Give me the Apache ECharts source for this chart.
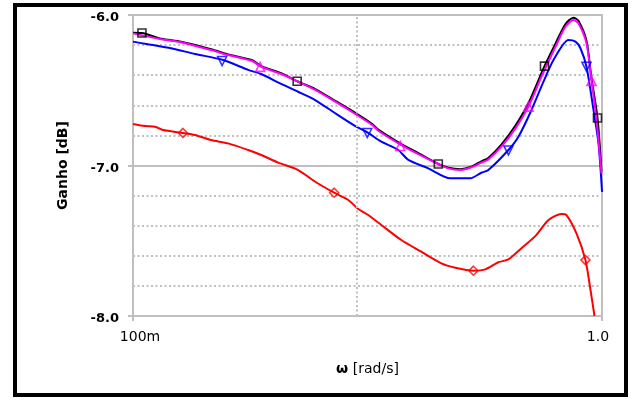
<!DOCTYPE html>
<html><head><meta charset="utf-8">
<script src="https://cdn.jsdelivr.net/npm/echarts@6/dist/echarts.min.js"></script>
<style>html,body{margin:0;padding:0;background:#fff}#c{width:636px;height:398px}</style>
</head><body><div id="c"></div>
<script>
// Frequency axis tick labels
const xTickLabels = ['100m', '1.0'];
const yTickLabels = ['-8.0', '-7.0', '-6.0'];

// [w (rad/s), gain (dB)]
const blackCurve = [
  [0.1000,-6.118],[0.1045,-6.120],[0.1148,-6.158],[0.1266,-6.178],[0.1467,-6.228],[0.1595,-6.262],
  [0.1795,-6.300],[0.1876,-6.340],[0.2070,-6.386],[0.2239,-6.440],[0.2446,-6.492],[0.2699,-6.570],
  [0.2978,-6.650],[0.3236,-6.724],[0.3334,-6.762],[0.3733,-6.858],[0.4058,-6.918],[0.4477,-6.990],
  [0.4703,-7.015],[0.4989,-7.025],[0.5266,-7.008],[0.5531,-6.972],[0.5723,-6.950],[0.6101,-6.862],
  [0.6538,-6.735],[0.6970,-6.585],[0.7540,-6.340],[0.7958,-6.190],[0.8358,-6.060],[0.8693,-6.018],
  [0.8908,-6.038],[0.9267,-6.172],[0.9497,-6.420],[0.9781,-6.684],[0.9975,-7.040]
];
const magentaCurve = [
  [0.1000,-6.122],[0.1148,-6.161],[0.1266,-6.181],[0.1467,-6.233],[0.1595,-6.266],[0.1795,-6.306],
  [0.1876,-6.344],[0.2070,-6.392],[0.2250,-6.443],[0.2446,-6.498],[0.2699,-6.576],[0.2978,-6.658],
  [0.3236,-6.731],[0.3334,-6.769],[0.3733,-6.864],[0.4058,-6.924],[0.4477,-6.990],[0.4703,-7.019],
  [0.4989,-7.030],[0.5266,-7.012],[0.5531,-6.981],[0.5723,-6.960],[0.6101,-6.875],[0.6538,-6.753],
  [0.6970,-6.609],[0.7431,-6.410],[0.7958,-6.211],[0.8358,-6.078],[0.8693,-6.033],[0.8908,-6.055],
  [0.9267,-6.188],[0.9497,-6.432],[0.9734,-6.698],[0.9975,-7.052]
];
const blueCurve = [
  [0.1000,-6.177],[0.1077,-6.195],[0.1205,-6.221],[0.1356,-6.259],[0.1556,-6.299],[0.1760,-6.365],
  [0.1876,-6.392],[0.2070,-6.458],[0.2250,-6.510],[0.2446,-6.565],[0.2699,-6.653],[0.2978,-6.738],
  [0.3142,-6.775],[0.3384,-6.842],[0.3678,-6.897],[0.3864,-6.963],[0.4262,-7.019],[0.4749,-7.085],
  [0.5240,-7.085],[0.5531,-7.048],[0.5723,-7.030],[0.6316,-6.897],[0.6635,-6.809],[0.7074,-6.631],
  [0.7503,-6.443],[0.7880,-6.299],[0.8482,-6.166],[0.8779,-6.177],[0.8995,-6.221],[0.9267,-6.344],
  [0.9591,-6.631],[0.9829,-6.853],[1.0000,-7.174]
];
const redCurve = [
  [0.1000,-6.724],[0.1061,-6.738],[0.1114,-6.742],[0.1159,-6.764],[0.1266,-6.782],[0.1356,-6.797],
  [0.1467,-6.831],[0.1595,-6.853],[0.1760,-6.897],[0.1876,-6.930],[0.2040,-6.981],[0.2250,-7.030],
  [0.2446,-7.108],[0.2685,-7.181],[0.2877,-7.229],[0.3022,-7.289],[0.3173,-7.329],[0.3384,-7.395],
  [0.3733,-7.495],[0.4118,-7.573],[0.4544,-7.650],[0.4867,-7.679],[0.5318,-7.699],[0.5641,-7.690],
  [0.6011,-7.643],[0.6316,-7.624],[0.6733,-7.550],[0.7215,-7.468],[0.7689,-7.362],[0.8196,-7.322],
  [0.8399,-7.329],[0.8822,-7.451],[0.9220,-7.628],[0.9450,-7.827],[0.9638,-8.000]
];

// marker positions
const blackMarks = [[0.1045,-6.120],[0.2239,-6.440],[0.4477,-6.990],[0.7540,-6.340],[0.9781,-6.684]];
const magentaMarks = [[0.1867,-6.345],[0.3714,-6.870],[0.6970,-6.609],[0.9497,-6.438]];
const blueMarks = [[0.1549,-6.306],[0.3158,-6.784],[0.6316,-6.900],[0.9267,-6.344]];
const redMarks = [[0.1278,-6.784],[0.2685,-7.181],[0.5318,-7.699],[0.9220,-7.628]];

const vGrid = [0.3];

const FONT = 'DejaVu Sans';
const GRAY = '#bfbfbf';

function lineSeries(data, color) {
  return { type:'line', data:data, showSymbol:false, symbol:'none', smooth:0.25,
    lineStyle:{color:color, width:2}, itemStyle:{color:color}, z:3, silent:true };
}
function markSeries(data, color, symbol, rot, size) {
  return { type:'scatter', data:data, symbol:symbol, symbolSize:size, symbolRotate:rot||0,
    itemStyle:{color:'rgba(255,255,255,0)', borderColor:color, borderWidth:1.6}, z:4, silent:true };
}

const chart = echarts.init(document.getElementById('c'), null, {renderer:'canvas'});
chart.setOption({
  animation:false,
  backgroundColor:'#ffffff',
  graphic:[{ type:'rect', shape:{x:15, y:5, width:611, height:390},
    style:{fill:'none', stroke:'#000', lineWidth:4}, z:100, silent:true }],
  grid:{ left:133, top:15, width:469, height:301, show:true, borderColor:GRAY, borderWidth:2 },
  xAxis:{
    type:'log', logBase:10, min:0.1, max:1,
    name:'{w|ω} [rad/s]', nameLocation:'middle', nameGap:46,
    nameTextStyle:{ fontFamily:FONT, fontSize:14, color:'#000',
      rich:{ w:{ fontFamily:FONT, fontSize:14, fontWeight:'bold', color:'#000' } } },
    axisLine:{ lineStyle:{ color:GRAY, width:2 } },
    axisTick:{ show:true, length:5, lineStyle:{ color:GRAY, width:2 } },
    minorTick:{ show:false },
    axisLabel:{ fontFamily:FONT, fontSize:14, color:'#000', margin:14,
      rich:{
        a:{ fontFamily:FONT, fontSize:14, color:'#000', padding:[0,0,0,14] },
        b:{ fontFamily:FONT, fontSize:14, color:'#000', padding:[0,8,0,0] }
      },
      formatter:function(v){ return v < 0.5 ? '{a|' + xTickLabels[0] + '}' : '{b|' + xTickLabels[1] + '}'; } },
    splitLine:{ show:false }
  },
  yAxis:[{
    type:'value', min:-8, max:-6, interval:1,
    name:'Ganho [dB]', nameLocation:'middle', nameGap:63,
    nameTextStyle:{ fontFamily:FONT, fontSize:14, fontWeight:'bold', color:'#000' },
    axisLine:{ show:true, lineStyle:{ color:GRAY, width:2 } },
    axisTick:{ show:true, length:5, lineStyle:{ color:GRAY, width:2 } },
    axisLabel:{ fontFamily:FONT, fontSize:13, fontWeight:'bold', color:'#000', margin:14,
      verticalAlign:'top', lineHeight:6,
      formatter:function(v){ return yTickLabels[Math.round(v + 8)]; } },
    splitLine:{ show:true, lineStyle:{ color:GRAY, width:2, type:'solid' } }
  },{
    type:'value', min:-8, max:-6, interval:0.2,
    axisLine:{ show:false }, axisTick:{ show:false }, axisLabel:{ show:false },
    splitLine:{ show:true, lineStyle:{ color:GRAY, width:2, type:[2,2.5] } }
  }],
  series:[
    { type:'line', data:[], silent:true,
      markLine:{ silent:true, symbol:'none', label:{show:false}, animation:false,
        lineStyle:{ color:GRAY, width:2, type:[2,2.5] },
        data: vGrid.map(function(x){ return { xAxis:x }; }) } },
    lineSeries(redCurve, '#ff0000'),
    lineSeries(blueCurve, '#0000ff'),
    lineSeries(blackCurve, '#000000'),
    lineSeries(magentaCurve, '#ff00ff'),
    markSeries(redMarks, '#ff0000', 'diamond', 0, 9),
    markSeries(blueMarks, '#0000ff', 'triangle', 180, 9),
    markSeries(blackMarks, '#000000', 'rect', 0, 8),
    markSeries(magentaMarks, '#ff00ff', 'triangle', 0, 9)
  ]
});
</script></body></html>
